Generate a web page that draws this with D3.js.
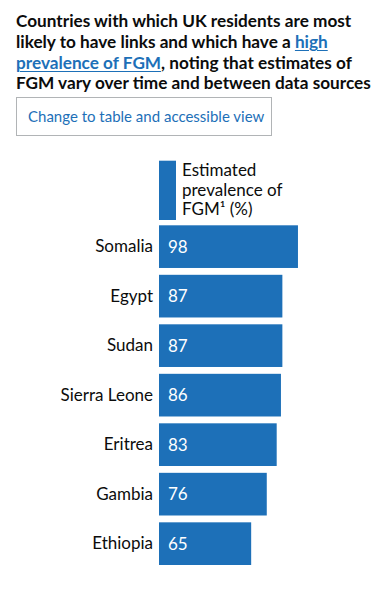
<!DOCTYPE html>
<html>
<head>
<meta charset="utf-8">
<script src="https://cdn.jsdelivr.net/npm/d3@7"></script>
<style>
  body { margin: 0; background: #fff; font-family: Lato, Arial, sans-serif; color: #0b0c0c; }
  .title { position: absolute; left: 16px; top: 11px; white-space: nowrap; font-weight: bold; font-size: 17.2px; line-height: 20.8px; }
  .title a { color: #1d70b8; text-decoration: underline; text-decoration-thickness: 1px; text-underline-offset: 2px; }
  .btn { position: absolute; left: 16px; top: 97px; width: 256px; height: 39px; border: 1px solid #b1b4b6; box-sizing: border-box; color: #1d70b8; font-size: 15px; line-height: 37px; padding-left: 11px; white-space: nowrap; }
  svg { position: absolute; left: 0; top: 0; }
</style>
</head>
<body>
<div class="title">Countries with which UK residents are most<br>likely to have links and which have a <a href="#">high</a><br><a href="#">prevalence of FGM</a>, noting that estimates of<br>FGM vary over time and between data sources</div>
<div class="btn">Change to table and accessible view</div>
<script>
const countries = ["Somalia", "Egypt", "Sudan", "Sierra Leone", "Eritrea", "Gambia", "Ethiopia"];
const prevalence = [98, 87, 87, 86, 83, 76, 65];
const legendLines = ["Estimated", "prevalence of", "FGM\u00b9 (%)"];

const barColor = "#1d70b8";
const labelFont = "Lato, Arial, sans-serif";

const svg = d3.select("body")
  .append("svg")
    .attr("width", 378)
    .attr("height", 600);

const x = d3.scaleLinear()
  .domain([0, 100])
  .range([159, 300.8]);

const y = d3.scaleBand()
  .domain(countries)
  .range([225.3, 565])
  .paddingInner(0.138)
  .paddingOuter(0);

// legend / header swatch
svg.append("rect")
  .attr("x", 159)
  .attr("y", 160.7)
  .attr("width", 17)
  .attr("height", 59.3)
  .attr("fill", barColor);

svg.selectAll("text.legend")
  .data(legendLines)
  .enter()
  .append("text")
  .attr("class", "legend")
  .attr("x", 182)
  .attr("y", (d, i) => 176 + i * 19.6)
  .style("font-size", "17px")
  .style("font-family", labelFont)
  .attr("fill", "#0b0c0c")
  .text(d => d);

svg.selectAll("rect.bar")
  .data(prevalence)
  .enter()
  .append("rect")
  .attr("class", "bar")
  .attr("x", x(0))
  .attr("y", (d, i) => y(countries[i]))
  .attr("width", d => x(d) - x(0))
  .attr("height", y.bandwidth())
  .attr("fill", barColor);

svg.selectAll("text.val")
  .data(prevalence)
  .enter()
  .append("text")
  .attr("class", "val")
  .attr("x", x(0) + 9)
  .attr("y", (d, i) => y(countries[i]) + y.bandwidth() / 2)
  .attr("dy", "0.36em")
  .attr("fill", "#fff")
  .style("font-size", "17px")
  .style("font-family", labelFont)
  .text(d => d);

const yAxis = svg.append("g")
  .attr("transform", "translate(" + x(0) + ",0)")
  .call(d3.axisLeft(y).tickSize(0).tickPadding(6));

yAxis.select(".domain").remove();
yAxis.selectAll(".tick text")
  .attr("fill", "#0b0c0c")
  .style("font-size", "17px")
  .style("font-family", labelFont);
</script>
</body>
</html>
